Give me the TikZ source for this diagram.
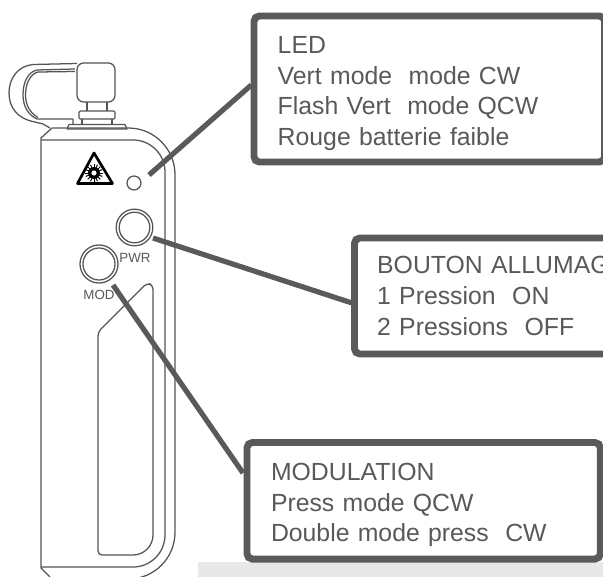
\documentclass[tikz,border=0pt]{standalone}
\usepackage{fontspec}
\setmainfont{Liberation Sans}
\definecolor{boxgray}{HTML}{5A5A5A}
\definecolor{txtgray}{HTML}{595959}
\definecolor{linegray}{HTML}{555555}
\definecolor{bandgray}{HTML}{E8E8E8}
\tikzset{
  px/.style={x=0.75pt,y=-0.75pt},
  callout/.style={draw=boxgray,line width=5.2pt,fill=white,rounded corners=4pt,anchor=north west,outer sep=0pt,
    inner xsep=0pt,inner ysep=0pt,align=left,text=txtgray,font=\fontsize{18.6pt}{23pt}\selectfont},
  leader/.style={draw=boxgray,line width=3.9pt},
  devline/.style={draw=linegray,line width=0.95pt,line join=round},
  ringout/.style={circle,draw=linegray,line width=0.95pt,fill=white,inner sep=0pt,outer sep=0pt},
  btnlabel/.style={text=txtgray,font=\fontsize{10pt}{12pt}\selectfont,inner sep=0pt}
}
\begin{document}
\begin{tikzpicture}[px]
\useasboundingbox (0,0) rectangle (603,577);
\clip (0,0) rectangle (603,577);
\fill[white] (0,0) rectangle (603,577);
\fill[bandgray] (198,562) rectangle (603,577);
% loop strap
\draw[devline] (77,63.5) -- (33,64.5) .. controls (18,66) and (9,78) .. (9,93) .. controls (9,108) and (18,119) .. (35,122) -- (43,124) -- (50,128);
\draw[devline] (75,69) -- (37,70) .. controls (28,72) and (23,82) .. (23,95) .. controls (23,106) and (28,115) .. (37,119) -- (73,119) -- (73,124);
\draw[devline] (75,71.5) -- (38,72) .. controls (30,74) and (25.5,84) .. (25.5,95) .. controls (25.5,105) and (30,113) .. (38,117.5);
% connector
\draw[devline,rounded corners=5pt] (77,102) -- (77,63) -- (115,63) -- (115,102) -- cycle;
\draw[devline] (87,102) -- (87,111) (107,102) -- (107,111);
\draw[devline,rounded corners=1pt] (79,111) rectangle (115,119);
\draw[devline] (82,119) -- (82,124) (112,119) -- (112,124);
\draw[devline] (67,129) -- (69,124.5) -- (125,124.5) -- (127,129) -- cycle;
% body
\draw[devline,rounded corners=35pt] (52,128) -- (175,128) -- (175,579) -- (48,579);
\draw[devline] (52,128) -- (41,138) -- (41,568) -- (50,577);
\draw[devline,rounded corners=24pt] (41,140) -- (165,140) -- (165,567) -- (41,567);
% slot
\draw[devline,rounded corners=3pt] (98,340) -- (98,332) -- (147,283) -- (153,285) -- (153,400);
\draw[devline,rounded corners=15pt] (153,400) -- (153,555) -- (120,555);
\draw[devline,rounded corners=3pt] (120,555) -- (98,555) -- (98,340);
% laser sign
\draw[black,line width=2pt,line join=round,fill=white] (94,153) -- (77.5,183.5) -- (112.5,183.5) -- cycle;
\foreach \a in {0,22.5,...,337.5} \draw[black,line width=0.7pt] (94,173) -- ++(\a:9);
\fill[black] (94,173) circle[radius=6];
\fill[white] (94,173) circle[radius=2.6];
% buttons
\node[ringout,minimum size=10.5pt] (ledlamp) at (134,183) {};
\node[ringout,minimum size=27.5pt] (pwrbtn) at (134.5,227.5) {};
\node[ringout,minimum size=23pt] at (134.5,227.5) {};
\node[ringout,minimum size=28.5pt] (modbtn) at (99,264) {};
\node[ringout,minimum size=24pt] at (99,264) {};
\node[btnlabel] (pwrlabel) at (135,258) {PWR};
\node[btnlabel] (modlabel) at (99,294.5) {MOD};
% callouts
\node[callout,minimum width=263pt,minimum height=109.5pt,text width=263pt] (ledbox) at (254,16)
  {\hspace*{17.8pt}\rule{0pt}{19.6pt}LED\\\hspace*{17.8pt}Vert mode\ \ mode CW\\\hspace*{17.8pt}Flash Vert\ \ mode QCW\\\hspace*{17.8pt}Rouge batterie faible};
\node[callout,minimum width=240pt,minimum height=87pt,text width=240pt] (pwrbox) at (354.5,238)
  {\hspace*{17pt}BOUTON ALLUMAGE\\\hspace*{17pt}1 Pression\ \ ON\\\hspace*{17pt}2 Pressions\ \ OFF};
\node[callout,minimum width=265pt,minimum height=87.4pt,text width=265pt] (modbox) at (247,442.5)
  {\hspace*{18pt}\rule{0pt}{19.6pt}MODULATION\\\hspace*{18pt}Press mode QCW\\\hspace*{18pt}Double mode press\ \ CW};
% leaders
\coordinate (ledtip) at (149,175);
\coordinate (pwrtip) at (153,238);
\coordinate (modtip) at (113,285);
\draw[leader] (ledtip) -- ([yshift=3pt,xshift=-2pt]ledbox.west);
\draw[leader] (pwrtip) -- ([yshift=-5.2pt,xshift=-2pt]pwrbox.west);
\draw[leader] (modtip) -- ([yshift=20.8pt,xshift=-3pt]modbox.west);
\end{tikzpicture}
\end{document}
